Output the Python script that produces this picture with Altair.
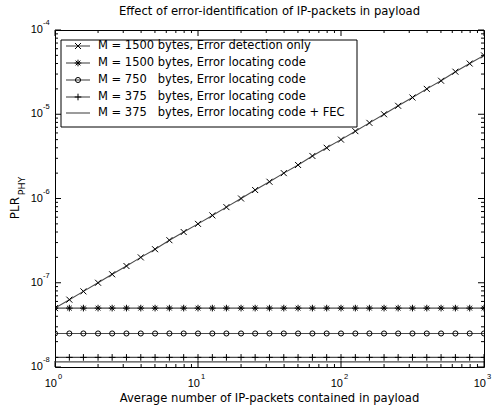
import altair as alt
import pandas as pd

# ---------------- data ----------------
N = [1, 1.26, 1.58, 2, 2.51, 3.16, 3.98, 5.01, 6.31, 7.94,
     10, 12.6, 15.8, 20, 25.1, 31.6, 39.8, 50.1, 63.1, 79.4,
     100, 126, 158, 200, 251, 316, 398, 501, 631, 794, 1000]
s_detect_1500 = [5.0e-8, 6.3e-8, 7.9e-8, 1.0e-7, 1.26e-7, 1.58e-7, 2.0e-7, 2.5e-7, 3.2e-7, 4.0e-7,
                 5.0e-7, 6.3e-7, 7.9e-7, 1.0e-6, 1.26e-6, 1.58e-6, 2.0e-6, 2.5e-6, 3.2e-6, 4.0e-6,
                 5.0e-6, 6.3e-6, 7.9e-6, 1.0e-5, 1.26e-5, 1.58e-5, 2.0e-5, 2.5e-5, 3.2e-5, 4.0e-5, 5.0e-5]
s_locate_1500 = [5.0e-8] * 31
s_locate_750 = [2.5e-8] * 31
s_locate_375 = [1.3e-8] * 31
s_locate_375_fec = [1.15e-8] * 31

labels = [
    "M = 1500 bytes, Error detection only",
    "M = 1500 bytes, Error locating code",
    "M = 750\u00a0\u00a0\u00a0bytes, Error locating code",
    "M = 375\u00a0\u00a0\u00a0bytes, Error locating code",
    "M = 375\u00a0\u00a0\u00a0bytes, Error locating code + FEC",
]
series = [s_detect_1500, s_locate_1500, s_locate_750, s_locate_375, s_locate_375_fec]

x_major = [1, 10, 100, 1000]
x_exp = ["0", "1", "2", "3"]
x_minor = [2, 3, 4, 5, 6, 7, 8, 9, 20, 30, 40, 50, 60, 70, 80, 90,
           200, 300, 400, 500, 600, 700, 800, 900]
y_major = [1e-8, 1e-7, 1e-6, 1e-5, 1e-4]
y_exp = ["-8", "-7", "-6", "-5", "-4"]
y_minor = [m * d for d in [1e-8, 1e-7, 1e-6, 1e-5] for m in [2, 3, 4, 5, 6, 7, 8, 9]]

title_text = "Effect of error-identification of IP-packets in payload"
xtitle_text = "Average number of IP-packets contained in payload"

# ---------------- style ----------------
W, H = 429, 337
FONT = "Liberation Sans"
TFONT = "DejaVu Sans"
X_PATH = "M-1,-1L1,1M-1,1L1,-1"
STAR_PATH = "M-1,0L1,0M0,-1L0,1M-0.72,-0.72L0.72,0.72M-0.72,0.72L0.72,-0.72"
PLUS_PATH = "M-1,0L1,0M0,-1L0,1"
markers = [(X_PATH, 36), (STAR_PATH, 44), ("circle", 26), (PLUS_PATH, 44), (None, 0)]

xs = alt.Scale(type="log", domain=[1, 1000], nice=False)
ys = alt.Scale(type="log", domain=[1e-8, 1e-4], nice=False)

layers = []

# data series
for lab, vals, (shape, size) in zip(labels, series, markers):
    df = pd.DataFrame({"N": N, "P": vals})
    base = alt.Chart(df).encode(
        x=alt.X("N:Q", scale=xs, axis=None),
        y=alt.Y("P:Q", scale=ys, axis=None),
    )
    layers.append(base.mark_line(color="#4a4a4a", strokeWidth=1.1, clip=True))
    if shape is not None:
        layers.append(base.mark_point(shape=shape, size=size, color="black",
                                      filled=False, strokeWidth=1, opacity=1, clip=True))

# ticks (inward, all four sides)
def xticks(vals, length):
    df = pd.DataFrame({"v": vals})
    b = alt.Chart(df).mark_rule(color="black", strokeWidth=1)
    xe = alt.X("v:Q", scale=xs, axis=None)
    return [b.encode(x=xe, y=alt.value(H), y2=alt.value(H - length)),
            b.encode(x=xe, y=alt.value(0), y2=alt.value(length))]

def yticks(vals, length):
    df = pd.DataFrame({"v": vals})
    b = alt.Chart(df).mark_rule(color="black", strokeWidth=1)
    ye = alt.Y("v:Q", scale=ys, axis=None)
    return [b.encode(y=ye, x=alt.value(0), x2=alt.value(length)),
            b.encode(y=ye, x=alt.value(W), x2=alt.value(W - length))]

layers += xticks(x_major, 6) + xticks(x_minor, 3) + yticks(y_major, 6) + yticks(y_minor, 3)

# tick labels
xl = pd.DataFrame({"v": x_major, "e": x_exp})
layers.append(alt.Chart(xl).mark_text(font=FONT, fontSize=11, align="right", baseline="middle", dx=2)
              .encode(x=alt.X("v:Q", scale=xs, axis=None), y=alt.value(H + 17), text=alt.value("10")))
layers.append(alt.Chart(xl).mark_text(font=FONT, fontSize=7.5, align="left", baseline="middle", dx=3)
              .encode(x=alt.X("v:Q", scale=xs, axis=None), y=alt.value(H + 10), text="e:N"))
yl = pd.DataFrame({"v": y_major, "e": y_exp})
layers.append(alt.Chart(yl).mark_text(font=FONT, fontSize=11, align="right", baseline="middle")
              .encode(y=alt.Y("v:Q", scale=ys, axis=None), x=alt.value(-12), text=alt.value("10")))
layers.append(alt.Chart(yl).mark_text(font=FONT, fontSize=7.5, align="left", baseline="middle", dy=-7)
              .encode(y=alt.Y("v:Q", scale=ys, axis=None), x=alt.value(-12), text="e:N"))

# titles
one = pd.DataFrame({"a": [0]})
layers.append(alt.Chart(pd.DataFrame({"t": [title_text]})).mark_text(font=TFONT, fontSize=11.6, align="center", baseline="middle")
              .encode(x=alt.value(W / 2), y=alt.value(-18), text="t:N"))
layers.append(alt.Chart(pd.DataFrame({"t": [xtitle_text]})).mark_text(font=TFONT, fontSize=11.6, align="center", baseline="middle")
              .encode(x=alt.value(W / 2), y=alt.value(H + 32), text="t:N"))
layers.append(alt.Chart(pd.DataFrame({"t": ["PLR"]})).mark_text(font=TFONT, fontSize=12, align="center", baseline="middle", angle=270)
              .encode(x=alt.value(-40), y=alt.value(178), text="t:N"))
layers.append(alt.Chart(pd.DataFrame({"t": ["PHY"]})).mark_text(font=TFONT, fontSize=9.5, align="center", baseline="middle", angle=270)
              .encode(x=alt.value(-33), y=alt.value(156), text="t:N"))

# legend
layers.append(alt.Chart(one).mark_rect(fill="white", stroke="black", strokeWidth=1)
              .encode(x=alt.value(6), x2=alt.value(302), y=alt.value(10), y2=alt.value(97)))
row_y = [16, 33, 50, 67, 83]
for lab, (shape, size), ry in zip(labels, markers, row_y):
    layers.append(alt.Chart(one).mark_rule(color="#4a4a4a", strokeWidth=1.1)
                  .encode(x=alt.value(11), x2=alt.value(35), y=alt.value(ry)))
    if shape is not None:
        layers.append(alt.Chart(one).mark_point(shape=shape, size=size, color="black", filled=False,
                                                strokeWidth=1, opacity=1)
                      .encode(x=alt.value(23), y=alt.value(ry)))
    layers.append(alt.Chart(pd.DataFrame({"t": [lab]})).mark_text(font=TFONT, fontSize=11.5, align="left", baseline="middle")
                  .encode(x=alt.value(43), y=alt.value(ry), text="t:N"))

chart = alt.layer(*layers).properties(
    width=W, height=H,
    autosize="none",
    padding={"left": 55, "top": 30, "right": 9, "bottom": 40},
    background="white",
).configure_view(stroke="black", strokeWidth=1)

chart.save("out.html", embed_options={"renderer": "svg", "actions": False})
